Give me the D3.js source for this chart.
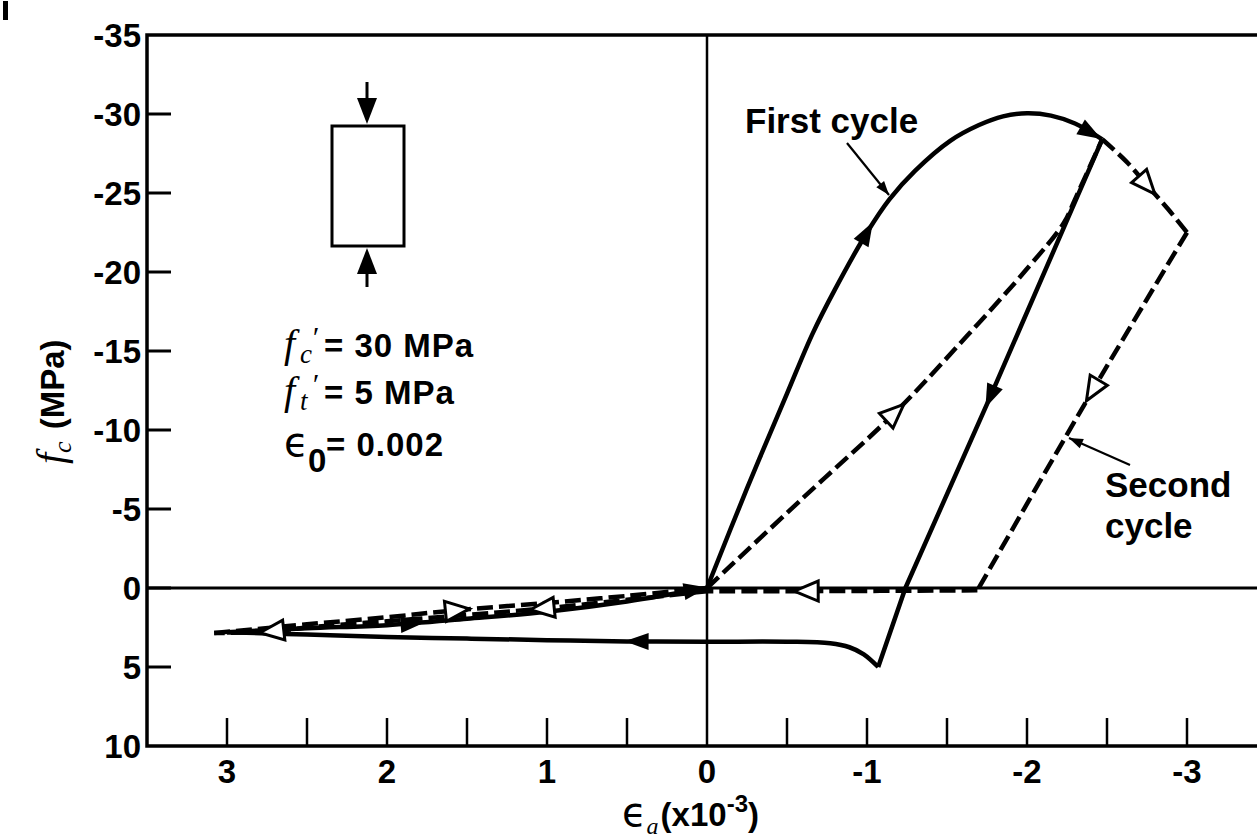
<!DOCTYPE html>
<html lang="en">
<head>
<meta charset="UTF-8">
<title>Cyclic compression of concrete</title>
<script src="https://d3js.org/d3.v7.min.js"></script>
<style>
  body { margin: 0; background: #fff; }
  svg { display: block; }
  .tick-label { font-family: "Liberation Sans", Arial, sans-serif; font-weight: bold; font-size: 33px; fill: #000; }
  .note { font-family: "Liberation Sans", Arial, sans-serif; font-weight: bold; font-size: 35px; fill: #000; }
  .param { font-family: "Liberation Sans", Arial, sans-serif; font-weight: bold; font-size: 33px; fill: #000; letter-spacing: 1px; }
  .serif { font-family: "Liberation Serif", "Times New Roman", serif; font-style: italic; font-weight: normal; }
  .eps { font-family: "DejaVu Sans", sans-serif; font-weight: normal; }
</style>
</head>
<body>
<svg id="chart" width="1257" height="835"></svg>
<script>
// strain in 1e-3 (compression negative, axis reversed), stress in MPa (compression negative)
const xTicks = [3, 2, 1, 0, -1, -2, -3];
const xMinorTicks = [3, 2.5, 2, 1.5, 1, 0.5, -0.5, -1, -1.5, -2, -2.5, -3];
const yTicks = [-35, -30, -25, -20, -15, -10, -5, 0, 5, 10];

// first cycle (solid)
const firstLoad = [[0,0],[-0.25,-6.3],[-0.5,-12.3],[-0.66,-16.1],[-0.8,-18.9],[-1.0,-22.5],[-1.14,-24.6],[-1.3,-26.4],[-1.52,-28.3],[-1.7,-29.3],[-1.85,-29.85],[-2.0,-30.05],[-2.15,-29.9],[-2.3,-29.4],[-2.47,-28.4]];
const firstUnload = [[-2.47,-28.4],[-1.77,-12.1],[-1.24,0],[-1.07,5.0]];
const firstTension = [[-1.07,5.0],[-0.98,4.2],[-0.89,3.75],[-0.77,3.5],[-0.5,3.4],[0,3.4],[0.5,3.38],[1.0,3.3],[1.5,3.2],[2.0,3.1],[2.5,2.95],[3.0,2.8]];
const firstReload = [[3.0,2.8],[2.5,2.55],[2.0,2.35],[1.5,1.95],[1.0,1.5],[0.5,0.85],[0,0]];

// second cycle (dashed)
const secondLoad = [[0,0],[-0.6,-5.7],[-1.175,-11.1],[-1.62,-15.9],[-2.0,-20.2],[-2.23,-23.1],[-2.3,-24.6],[-2.47,-28.4]];
const secondEnvelope = [[-2.47,-28.4],[-2.62,-27.0],[-2.75,-25.5],[-2.88,-24.0],[-3.0,-22.5]];
const secondUnload = [[-3.0,-22.5],[-2.41,-12.5],[-1.69,0.15]];
const secondZero = [[-1.69,0.15],[-0.6,0.2],[0,0.2]];
const secondTension = [[0,0.2],[0.5,0.75],[1.03,1.3],[1.5,1.7],[2.0,2.1],[2.5,2.5],[2.72,2.75],[3.08,2.85]];
const secondReload = [[3.08,2.85],[2.5,2.3],[2.0,1.85],[1.56,1.4],[1.0,0.95],[0.5,0.5],[0,0]];

const filledArrows = [
  {s: firstLoad, at: [-1.0, -22.5]},
  {s: firstLoad, at: [-2.4, -28.8]},
  {s: firstUnload, at: [-1.77, -12.1]},
  {s: firstTension, at: [0.44, 3.38]},
  {s: firstReload, at: [1.84, 2.25]},
  {s: firstReload, at: [0.07, 0.1]}
];
const openArrows = [
  {s: secondLoad, at: [-1.175, -11.1]},
  {s: secondEnvelope, at: [-2.75, -25.5]},
  {s: secondUnload, at: [-2.41, -12.5]},
  {s: secondZero, at: [-0.62, 0.2]},
  {s: secondTension, at: [1.03, 1.3]},
  {s: secondTension, at: [2.72, 2.75]},
  {s: secondReload, at: [1.56, 1.4]}
];

const svg = d3.select('#chart');
const x = d3.scaleLinear().domain([3.5, -3.5]).range([147, 1267]);
const y = d3.scaleLinear().domain([-35, 10]).range([35, 746]);

const line = d3.line().x(d => x(d[0])).y(d => y(d[1]));
const smooth = d3.line().x(d => x(d[0])).y(d => y(d[1])).curve(d3.curveCatmullRom.alpha(0.5));

// stray mark at top-left
svg.append('rect').attr('x', 3).attr('y', 1).attr('width', 5).attr('height', 19).attr('fill', '#000');

// frame
const g = svg.append('g');
g.append('path')
  .attr('d', `M${x(3.5)},${y(-35)}H${x(-3.5)}V${y(10)}H${x(3.5)}Z`)
  .attr('fill', 'none').attr('stroke', '#000').attr('stroke-width', 3.5);

// zero lines
g.append('line').attr('x1', x(0)).attr('x2', x(0)).attr('y1', y(-35)).attr('y2', y(10))
  .attr('stroke', '#000').attr('stroke-width', 2.5);
g.append('line').attr('x1', x(3.5)).attr('x2', x(-3.5)).attr('y1', y(0)).attr('y2', y(0))
  .attr('stroke', '#000').attr('stroke-width', 3);

// y ticks
g.selectAll('.ytick').data(yTicks.filter(d => d > -35 && d < 10)).enter().append('line')
  .attr('x1', x(3.5)).attr('x2', x(3.5) + 24)
  .attr('y1', d => y(d)).attr('y2', d => y(d))
  .attr('stroke', '#000').attr('stroke-width', 3);
g.selectAll('.ylab').data(yTicks).enter().append('text')
  .attr('class', 'tick-label')
  .attr('x', 141).attr('y', d => y(d) + 12)
  .attr('text-anchor', 'end')
  .text(d => d);

// x ticks
g.selectAll('.xtick').data(xMinorTicks).enter().append('line')
  .attr('x1', d => x(d)).attr('x2', d => x(d))
  .attr('y1', y(10)).attr('y2', y(10) - 28)
  .attr('stroke', '#000').attr('stroke-width', 2.5);
g.selectAll('.xlab').data(xTicks).enter().append('text')
  .attr('class', 'tick-label')
  .attr('x', d => x(d)).attr('y', 783)
  .attr('text-anchor', 'middle')
  .text(d => d);

// axis titles
const xt = svg.append('text').attr('class', 'tick-label').attr('x', 622).attr('y', 826);
xt.append('tspan').attr('class', 'eps').attr('font-size', 40).text('ϵ');
xt.append('tspan').attr('class', 'serif').attr('font-size', 24).attr('dy', 8).text('a');
xt.append('tspan').attr('dy', -8).attr('dx', 2).text('(x10');
xt.append('tspan').attr('font-size', 24).attr('dy', -14).text('-3');
xt.append('tspan').attr('dy', 14).text(')');

const yt = svg.append('text').attr('transform', 'translate(64,464) rotate(-90)').attr('class', 'tick-label');
yt.append('tspan').attr('class', 'serif').attr('font-size', 40).text('f');
yt.append('tspan').attr('class', 'serif').attr('font-size', 26).attr('dy', 7).text('c');
yt.append('tspan').attr('dy', -7).attr('dx', 12).text('(MPa)');

// curves
const curves = svg.append('g').attr('fill', 'none').attr('stroke', '#000').attr('stroke-width', 4.5)
  .attr('stroke-linejoin', 'round');
curves.append('path').attr('d', smooth(firstLoad));
curves.append('path').attr('d', line(firstUnload));
curves.append('path').attr('d', smooth(firstTension));
curves.append('path').attr('d', smooth(firstReload));
[secondLoad, secondEnvelope, secondUnload, secondZero, secondTension, secondReload].forEach(s => {
  curves.append('path').attr('d', smooth(s)).attr('stroke-dasharray', '16,6');
});

// arrowheads: oriented along the nearest segment of their series
function direction(a) {
  const px = x(a.at[0]), py = y(a.at[1]);
  let best = null, bestD = Infinity;
  for (let i = 0; i < a.s.length - 1; i++) {
    const x1 = x(a.s[i][0]), y1 = y(a.s[i][1]), x2 = x(a.s[i + 1][0]), y2 = y(a.s[i + 1][1]);
    const dx = x2 - x1, dy = y2 - y1;
    const t = Math.max(0, Math.min(1, ((px - x1) * dx + (py - y1) * dy) / (dx * dx + dy * dy)));
    const d = Math.hypot(x1 + t * dx - px, y1 + t * dy - py);
    if (d < bestD) { bestD = d; best = Math.atan2(dy, dx) * 180 / Math.PI; }
  }
  return best;
}
const arrows = svg.append('g');
arrows.selectAll('.fa').data(filledArrows).enter().append('path')
  .attr('d', 'M12,0L-12,-8.5L-12,8.5Z')
  .attr('transform', d => `translate(${x(d.at[0])},${y(d.at[1])}) rotate(${direction(d)})`)
  .attr('fill', '#000');
arrows.selectAll('.oa').data(openArrows).enter().append('path')
  .attr('d', 'M12,0L-12,-10L-12,10Z')
  .attr('transform', d => `translate(${x(d.at[0])},${y(d.at[1])}) rotate(${direction(d)})`)
  .attr('fill', '#fff').attr('stroke', '#000').attr('stroke-width', 3).attr('stroke-linejoin', 'miter');

// specimen sketch
const sp = svg.append('g').attr('stroke', '#000');
sp.append('rect').attr('x', 332).attr('y', 126).attr('width', 72).attr('height', 120)
  .attr('fill', '#fff').attr('stroke-width', 3);
sp.append('line').attr('x1', 367).attr('x2', 367).attr('y1', 82).attr('y2', 110).attr('stroke-width', 3);
sp.append('path').attr('d', 'M357,98L377,98L367,124Z').attr('fill', '#000').attr('stroke', 'none');
sp.append('line').attr('x1', 367).attr('x2', 367).attr('y1', 262).attr('y2', 287).attr('stroke-width', 3);
sp.append('path').attr('d', 'M357,274L377,274L367,248Z').attr('fill', '#000').attr('stroke', 'none');

// material parameters
function fRow(sub, rest, base) {
  svg.append('text').attr('class', 'serif').attr('x', 284).attr('y', base).attr('font-size', 40).text('f');
  svg.append('text').attr('class', 'serif').attr('x', 300).attr('y', base + 6).attr('font-size', 27).text(sub);
  svg.append('text').attr('class', 'serif').attr('x', 311).attr('y', base - 10).attr('font-size', 30).text('′');
  svg.append('text').attr('class', 'param').attr('x', 324).attr('y', base).text(rest);
}
fRow('c', '= 30 MPa', 357);
fRow('t', '= 5 MPa', 404);
svg.append('text').attr('class', 'eps').attr('x', 284).attr('y', 456).attr('font-size', 40).text('ϵ');
svg.append('text').attr('class', 'param').attr('x', 308).attr('y', 472).attr('font-size', 26).text('0');
svg.append('text').attr('class', 'param').attr('x', 326).attr('y', 456).text('= 0.002');

// annotations
svg.append('text').attr('class', 'note').attr('x', 745).attr('y', 133).text('First cycle');
svg.append('text').attr('class', 'note').attr('x', 1105).attr('y', 497).text('Second');
svg.append('text').attr('class', 'note').attr('x', 1105).attr('y', 538).text('cycle');

function pointer(x1, y1, x2, y2) {
  const a = Math.atan2(y2 - y1, x2 - x1) * 180 / Math.PI;
  svg.append('line').attr('x1', x1).attr('y1', y1).attr('x2', x2).attr('y2', y2)
    .attr('stroke', '#000').attr('stroke-width', 2.2);
  svg.append('path').attr('d', 'M0,0L-14,-5L-14,5Z').attr('fill', '#000')
    .attr('transform', `translate(${x2},${y2}) rotate(${a})`);
}
pointer(847, 143, 889, 195);
pointer(1130, 465, 1069, 438);
</script>
</body>
</html>
